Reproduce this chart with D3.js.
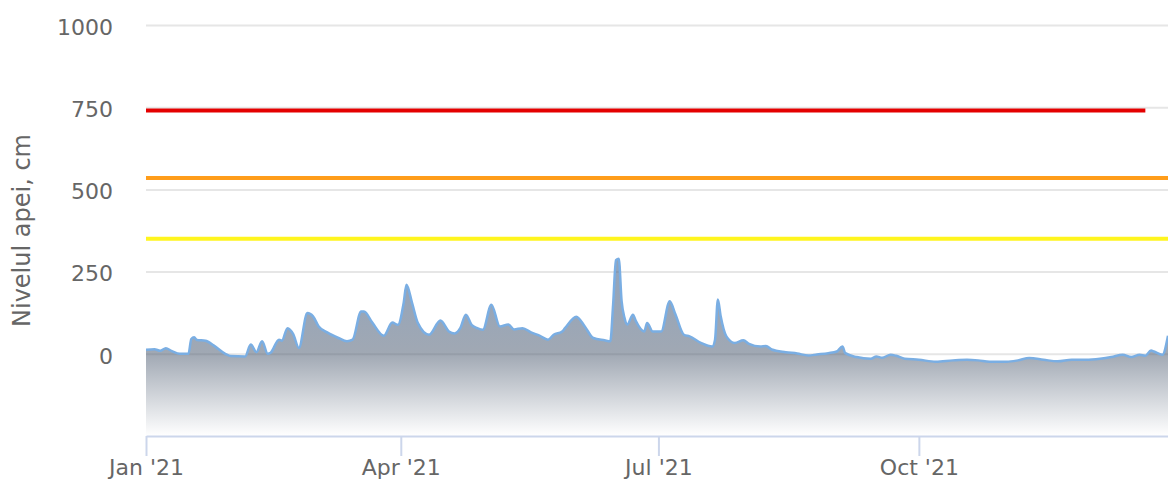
<!DOCTYPE html>
<html>
<head>
<meta charset="utf-8">
<script src="https://cdn.jsdelivr.net/npm/d3@7"></script>
<style>
  html, body { margin: 0; padding: 0; background: #fff; }
  svg { display: block; font-family: "DejaVu Sans", sans-serif; }
</style>
</head>
<body>
<svg id="chart"></svg>
<script>
// water level readings (cm)
const levelDates = [
  '2021-01-01', '2021-01-04', '2021-01-06', '2021-01-08', '2021-01-10', '2021-01-13',
  '2021-01-16', '2021-01-17', '2021-01-18', '2021-01-19', '2021-01-22', '2021-01-25',
  '2021-01-29', '2021-01-31', '2021-02-05', '2021-02-07', '2021-02-09', '2021-02-11',
  '2021-02-13', '2021-02-14', '2021-02-17', '2021-02-18', '2021-02-20', '2021-02-22',
  '2021-02-24', '2021-02-27', '2021-03-01', '2021-03-03', '2021-03-06', '2021-03-10',
  '2021-03-13', '2021-03-15', '2021-03-18', '2021-03-19', '2021-03-22', '2021-03-26',
  '2021-03-29', '2021-03-31', '2021-04-02', '2021-04-03', '2021-04-05', '2021-04-07',
  '2021-04-11', '2021-04-15', '2021-04-18', '2021-04-20', '2021-04-22', '2021-04-24',
  '2021-04-26', '2021-04-28', '2021-04-30', '2021-05-03', '2021-05-06', '2021-05-09',
  '2021-05-11', '2021-05-14', '2021-05-17', '2021-05-20', '2021-05-23', '2021-05-25',
  '2021-05-28', '2021-05-29', '2021-06-02', '2021-06-05', '2021-06-08', '2021-06-12',
  '2021-06-14', '2021-06-15', '2021-06-16', '2021-06-17', '2021-06-18', '2021-06-19',
  '2021-06-20', '2021-06-22', '2021-06-23', '2021-06-26', '2021-06-27', '2021-06-29',
  '2021-07-02', '2021-07-05', '2021-07-07', '2021-07-10', '2021-07-12', '2021-07-16',
  '2021-07-20', '2021-07-21', '2021-07-22', '2021-07-23', '2021-07-25', '2021-07-28',
  '2021-07-31', '2021-08-02', '2021-08-06', '2021-08-08', '2021-08-10', '2021-08-15',
  '2021-08-19', '2021-08-23', '2021-08-26', '2021-08-30', '2021-09-02', '2021-09-04',
  '2021-09-05', '2021-09-09', '2021-09-14', '2021-09-16', '2021-09-18', '2021-09-21',
  '2021-09-23', '2021-09-26', '2021-10-01', '2021-10-07', '2021-10-13', '2021-10-18',
  '2021-10-22', '2021-10-26', '2021-11-01', '2021-11-05', '2021-11-09', '2021-11-14',
  '2021-11-19', '2021-11-24', '2021-11-29', '2021-12-04', '2021-12-08', '2021-12-12',
  '2021-12-15', '2021-12-18', '2021-12-20', '2021-12-22', '2021-12-23', '2021-12-26',
  '2021-12-28'
];

const levelValues = [
  12, 14, 9, 17, 9, 0,
  0, 45, 50, 42, 40, 25,
  0, -7, -8, 28, 5, 38,
  0, 3, 43, 40, 78, 60,
  18, 124, 114, 83, 65, 48,
  38, 43, 129, 129, 94, 55,
  95, 88, 154, 210, 154, 94,
  58, 101, 68, 62, 78, 119,
  88, 78, 73, 149, 83, 89,
  74, 78, 65, 55, 43, 58,
  68, 78, 113, 83, 48, 41,
  38, 150, 285, 289, 160, 110,
  89, 119, 100, 68, 94, 68,
  68, 160, 120, 58, 53, 33,
  22, 43, 165, 114, 53, 33,
  41, 30, 22, 24, 13, 5,
  1, -5, -2, 2, 7, 22,
  2, -10, -15, -8, -12, -3,
  -6, -15, -18, -24, -20, -18,
  -20, -24, -24, -20, -13, -18,
  -23, -18, -18, -15, -10, -3,
  -10, -3, -6, 10, 7, -3,
  55
];

// warning levels: attention, flood, danger
const thresholdValues = [350, 535, 740];
const thresholdColors = ['#fff51e', '#ff9d1a', '#e40000'];
const thresholdEnds   = ['2021-12-31', '2021-12-31', '2021-12-20'];

const yTickValues = [0, 250, 500, 750, 1000];
const xTickDates  = ['2021-01-01', '2021-04-01', '2021-07-01', '2021-10-01'];

const yTitle = 'Nivelul apei, cm';

const FONT = '"DejaVu Sans", sans-serif';

const width  = 1168;
const height = 480;
const plot   = {left: 146, right: 1168, top: 25, bottom: 436};

const parseDate = d3.utcParse('%Y-%m-%d');
const formatTick = d3.utcFormat("%b '%y");

const svg = d3.select('#chart')
  .attr('width', width)
  .attr('height', height);

const x = d3.scaleUtc()
  .domain([parseDate('2021-01-01'), parseDate('2021-12-28')])
  .range([plot.left, plot.right]);

const y = d3.scaleLinear()
  .domain([-250, 1000])
  .range([plot.bottom, plot.top]);

const series = levelDates.map((d, i) => ({date: parseDate(d), value: levelValues[i]}));

svg.append('defs')
  .append('clipPath')
  .attr('id', 'plot-clip')
  .append('rect')
  .attr('x', plot.left)
  .attr('y', 0)
  .attr('width', plot.right - plot.left)
  .attr('height', plot.bottom);

function drawGrid() {
  const grid = svg.append('g')
    .attr('class', 'y-axis')
    .attr('transform', `translate(${plot.left},0)`)
    .call(d3.axisLeft(y)
      .tickValues(yTickValues)
      .tickSize(-(plot.right - plot.left))
      .tickPadding(33)
      .tickFormat(d3.format('d')));

  grid.attr('font-family', FONT).attr('font-size', 22);
  grid.select('.domain').remove();
  grid.selectAll('line')
    .attr('stroke', '#e6e6e6')
    .attr('stroke-width', 2);
  grid.selectAll('text')
    .attr('fill', '#666')
    .attr('dy', '0.42em');
}

function drawArea() {
  const maxValue = d3.max(levelValues);
  const zeroOffset = (y(0) - y(maxValue)) / (plot.bottom - y(maxValue));

  const gradient = svg.select('defs')
    .append('linearGradient')
    .attr('id', 'level-fill')
    .attr('gradientUnits', 'userSpaceOnUse')
    .attr('x1', 0).attr('x2', 0)
    .attr('y1', y(maxValue))
    .attr('y2', plot.bottom);

  gradient.append('stop').attr('offset', 0)
    .attr('stop-color', 'rgb(58,92,135)').attr('stop-opacity', 0.56);
  gradient.append('stop').attr('offset', zeroOffset)
    .attr('stop-color', 'rgb(86,100,120)').attr('stop-opacity', 0.56);
  gradient.append('stop').attr('offset', 1)
    .attr('stop-color', 'rgb(86,100,120)').attr('stop-opacity', 0);

  const area = d3.area()
    .x((d) => x(d.date))
    .y0(plot.bottom)
    .y1((d) => y(d.value))
    .curve(d3.curveMonotoneX);

  const line = d3.line()
    .x((d) => x(d.date))
    .y((d) => y(d.value))
    .curve(d3.curveMonotoneX);

  const layer = svg.append('g').attr('clip-path', 'url(#plot-clip)');

  layer.append('path')
    .datum(series)
    .attr('d', area)
    .attr('fill', 'url(#level-fill)');

  layer.append('path')
    .datum(series)
    .attr('d', line)
    .attr('fill', 'none')
    .attr('stroke', '#7aaee3')
    .attr('stroke-width', 2.5)
    .attr('stroke-linejoin', 'round');
}

function drawThresholds() {
  const layer = svg.append('g')
    .attr('class', 'thresholds')
    .attr('clip-path', 'url(#plot-clip)');

  const line = d3.line()
    .x((d) => x(d.date))
    .y((d) => y(d.value));

  thresholdValues.forEach((value, i) => {
    const points = [
      {date: parseDate('2021-01-01'), value: value},
      {date: parseDate(thresholdEnds[i]), value: value}
    ];
    layer.append('path')
      .datum(points)
      .attr('d', line)
      .attr('fill', 'none')
      .attr('stroke', thresholdColors[i])
      .attr('stroke-width', 4);
  });
}

function drawXAxis() {
  const axis = svg.append('g')
    .attr('class', 'x-axis')
    .attr('transform', `translate(0,${plot.bottom})`)
    .call(d3.axisBottom(x)
      .tickValues(xTickDates.map(parseDate))
      .tickSize(20)
      .tickSizeOuter(0)
      .tickPadding(3)
      .tickFormat(formatTick));

  axis.attr('font-family', FONT).attr('font-size', 22);
  axis.select('.domain')
    .attr('stroke', '#ccd6eb')
    .attr('stroke-width', 2);
  axis.selectAll('.tick line')
    .attr('stroke', '#ccd6eb')
    .attr('stroke-width', 2);
  axis.selectAll('text')
    .attr('fill', '#666');
}

function drawTitle() {
  svg.append('text')
    .attr('transform', `translate(30,${(plot.top + plot.bottom) / 2}) rotate(-90)`)
    .attr('text-anchor', 'middle')
    .attr('font-family', FONT)
    .attr('fill', '#666')
    .attr('font-size', 24)
    .text(yTitle);
}

drawGrid();
drawArea();
drawThresholds();
drawXAxis();
drawTitle();
</script>
</body>
</html>
